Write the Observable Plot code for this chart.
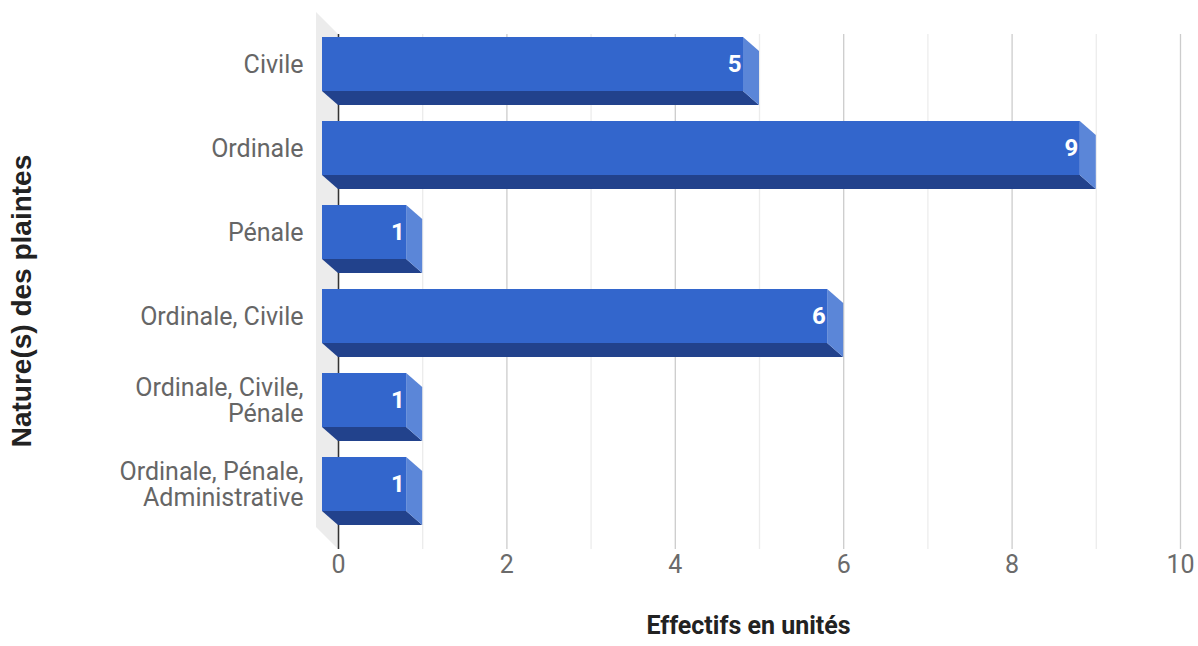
<!DOCTYPE html>
<html>
<head>
<meta charset="utf-8">
<script src="https://cdn.jsdelivr.net/npm/d3@7"></script>
<script src="https://cdn.jsdelivr.net/npm/@observablehq/plot@0.6"></script>
<style>
  html, body { margin: 0; padding: 0; background: #fff; }
  #chart svg { display: block; }
</style>
</head>
<body>
<div id="chart"></div>
<script>
// ---- data ----
const categories = [
  "Civile",
  "Ordinale",
  "Pénale",
  "Ordinale, Civile",
  "Ordinale, Civile,\nPénale",
  "Ordinale, Pénale,\nAdministrative"
];
const values = [5, 9, 1, 6, 1, 1];
const xTicks = [0, 2, 4, 6, 8, 10];
const gridValues = [0, 1, 2, 3, 4, 5, 6, 7, 8, 9, 10];
const xTitle = "Effectifs en unités";
const yTitle = "Nature(s) des plaintes";

const data = categories.map((c, i) => ({cat: c, value: values[i]}));

// ---- 3D look ----
const DX = 16, DY = 14;   // bar depth (front face shifted up-left from back plane)
const WALL = 22;          // depth of the left wall
const FRONT = "#3366cc", BOTTOM = "#22428c", SIDE = "#5b86d8";
const FONT = "Roboto, 'Liberation Sans', sans-serif";

function wallMark(index, scales, values, dims) {
  const x0 = scales.x(0);
  const top = dims.marginTop, bot = dims.height - dims.marginBottom;
  const g = d3.create("svg:g");
  g.append("path")
    .attr("d", `M${x0 - WALL},${top - WALL}L${x0},${top}L${x0},${bot}L${x0 - WALL},${bot - WALL}Z`)
    .attr("fill", "#ececec");
  return g.node();
}

function barsMark(index, scales) {
  const x = scales.x, y = scales.y;
  const bw = typeof y.bandwidth === "function" ? y.bandwidth() : y.bandwidth;
  const g = d3.create("svg:g");
  data.forEach(d => {
    const a = x(0), b = x(d.value);
    const t = y(d.cat), u = t + bw;
    // bottom face
    g.append("path")
      .attr("d", `M${a - DX},${u - DY}L${b - DX},${u - DY}L${b},${u}L${a},${u}Z`)
      .attr("fill", BOTTOM);
    // right side face
    g.append("path")
      .attr("d", `M${b - DX},${t - DY}L${b},${t}L${b},${u}L${b - DX},${u - DY}Z`)
      .attr("fill", SIDE);
    // front face
    g.append("rect")
      .attr("x", a - DX).attr("y", t - DY)
      .attr("width", b - a).attr("height", bw)
      .attr("fill", FRONT);
  });
  return g.node();
}

const plot = Plot.plot({
  width: 1198,
  height: 646,
  marginLeft: 338,
  marginRight: 18,
  marginTop: 34,
  marginBottom: 97,
  style: {fontFamily: FONT, background: "#fff", overflow: "visible"},
  x: {domain: [0, 10], axis: null},
  y: {type: "band", domain: categories, range: [49, 527], paddingInner: 0.362, paddingOuter: 0, axis: null},
  marks: [
    wallMark,
    Plot.ruleX(gridValues, {x: d => d, stroke: d => d % 2 ? "#ececec" : "#cccccc", strokeWidth: 1.3}),
    Plot.ruleX([0], {stroke: "#333", strokeWidth: 1.5}),
    barsMark,
    Plot.text(data, {
      x: "value", y: "cat", text: d => String(d.value),
      textAnchor: "end", dx: -DX - 2, dy: -DY,
      fill: "white", fontWeight: "bold", fontSize: 24
    }),
    Plot.text(data, {
      y: "cat", text: "cat", frameAnchor: "left", textAnchor: "end",
      dx: -35, dy: -DY, fill: "#666666", fontSize: 25, lineHeight: 1.05
    }),
    Plot.text(xTicks, {
      x: d => d, text: d => String(d), frameAnchor: "bottom",
      dy: 23, fill: "#6b6b6b", fontSize: 25
    }),
    Plot.text([xTitle], {
      frameAnchor: "bottom", textAnchor: "middle", dx: -11, dy: 84,
      fill: "#222", fontWeight: "bold", fontSize: 25
    }),
    Plot.text([yTitle], {
      frameAnchor: "left", textAnchor: "middle", rotate: -90, dx: 22 - 338, dy: 9,
      fill: "#222", fontWeight: "bold", fontSize: 28, fontFamily: "'Liberation Sans', Arial, sans-serif"
    })
  ]
});

document.getElementById("chart").appendChild(plot);
</script>
</body>
</html>
